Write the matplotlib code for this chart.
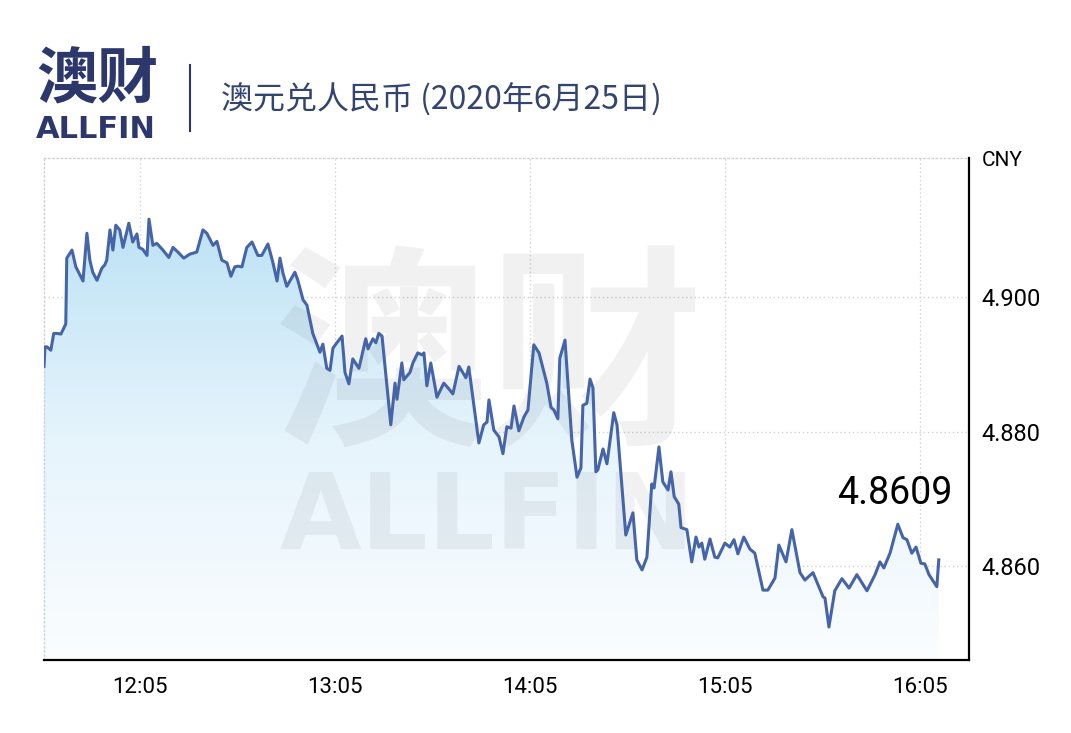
import numpy as np
import matplotlib.pyplot as plt
from matplotlib.colors import LinearSegmentedColormap
from matplotlib.lines import Line2D

plt.rcParams['font.family'] = ['Noto Sans CJK SC', 'DejaVu Sans']

W, H = 1071, 733

# minutes after 11:00, AUD/CNY rate
minutes = [35.5, 35.8, 36.4, 37.6, 38.5, 39.5, 40.7, 42.2, 42.5, 44.1,
           45.3, 47.5, 48.7, 49.6, 50.5, 51.8, 53.3, 54.2, 54.8, 55.8,
           56.7, 57.6, 58.8, 59.8, 61.6, 62.8, 64.1, 64.7, 65.9, 67.2,
           67.8, 69.0, 70.2, 72.1, 73.9, 75.2, 76.7, 78.5, 80.4, 82.5,
           84.4, 85.6, 87.5, 88.7, 90.2, 91.8, 93.0, 94.2, 95.2, 96.4,
           97.9, 99.5, 101.3, 102.5, 104.4, 105.9, 107.2, 108.1, 109.0, 110.2,
           112.7, 113.6, 115.2, 116.4, 118.2, 120.4, 121.3, 122.5, 123.5, 124.4,
           125.6, 127.2, 128.1, 129.3, 130.5, 132.4, 134.5, 135.2, 136.7, 137.6,
           138.5, 139.5, 142.2, 143.5, 144.1, 145.6, 146.2, 148.1, 149.0, 150.5,
           151.8, 152.4, 153.3, 154.5, 156.4, 158.5, 159.8, 161.3, 163.2, 165.3,
           166.2, 169.3, 170.8, 171.8, 172.4, 173.9, 175.5, 176.7, 177.9, 179.2,
           180.1, 181.6, 183.2, 184.4, 186.2, 187.8, 190.2, 191.5, 192.4, 193.6,
           194.2, 195.8, 197.9, 199.5, 200.7, 201.3, 202.5, 203.5, 204.4, 205.3,
           205.9, 207.5, 208.7, 210.8, 211.8, 214.5, 216.7, 217.9, 219.5, 221.0,
           222.5, 223.2, 224.7, 225.9, 227.5, 228.4, 229.4, 230.8, 231.5, 233.3,
           234.8, 236.1, 237.0, 237.9, 238.8, 240.4, 241.9, 242.8, 245.0, 246.5,
           247.8, 249.0, 250.8, 252.7, 254.2, 256.7, 258.2, 259.2, 260.4, 261.6,
           263.8, 265.6, 268.1, 269.6, 272.1, 275.2, 275.8, 277.0, 278.8, 281.0,
           283.2, 285.6, 288.7, 291.2, 292.7, 293.9, 295.8, 298.2, 299.8, 301.0,
           302.5, 303.8, 305.3, 306.5, 307.8, 310.2, 310.8]
rates = [4.8897, 4.8926, 4.8926, 4.8921, 4.8946, 4.8946, 4.8945, 4.8960, 4.9058, 4.9070,
         4.9045, 4.9024, 4.9095, 4.9055, 4.9037, 4.9025, 4.9043, 4.9048, 4.9055, 4.9100,
         4.9070, 4.9107, 4.9100, 4.9074, 4.9110, 4.9082, 4.9094, 4.9074, 4.9071, 4.9062,
         4.9116, 4.9077, 4.9080, 4.9070, 4.9059, 4.9074, 4.9067, 4.9058, 4.9064, 4.9067,
         4.9100, 4.9095, 4.9077, 4.9083, 4.9055, 4.9051, 4.9031, 4.9045, 4.9046, 4.9045,
         4.9074, 4.9082, 4.9062, 4.9062, 4.9079, 4.9052, 4.9024, 4.9058, 4.9036, 4.9016,
         4.9037, 4.9025, 4.8996, 4.8988, 4.8946, 4.8918, 4.8930, 4.8894, 4.8891, 4.8924,
         4.8932, 4.8942, 4.8888, 4.8871, 4.8908, 4.8894, 4.8938, 4.8923, 4.8938, 4.8932,
         4.8946, 4.8942, 4.8810, 4.8872, 4.8848, 4.8902, 4.8877, 4.8888, 4.8902, 4.8917,
         4.8914, 4.8917, 4.8868, 4.8902, 4.8851, 4.8872, 4.8865, 4.8856, 4.8897, 4.8880,
         4.8896, 4.8783, 4.8810, 4.8814, 4.8847, 4.8802, 4.8792, 4.8767, 4.8807, 4.8805,
         4.8838, 4.8801, 4.8822, 4.8832, 4.8929, 4.8917, 4.8872, 4.8836, 4.8832, 4.8819,
         4.8909, 4.8936, 4.8787, 4.8732, 4.8746, 4.8839, 4.8842, 4.8878, 4.8865, 4.8740,
         4.8743, 4.8774, 4.8752, 4.8828, 4.8810, 4.8646, 4.8679, 4.8609, 4.8594, 4.8613,
         4.8722, 4.8716, 4.8777, 4.8725, 4.8713, 4.8740, 4.8703, 4.8692, 4.8657, 4.8654,
         4.8606, 4.8643, 4.8628, 4.8634, 4.8610, 4.8640, 4.8613, 4.8612, 4.8634, 4.8628,
         4.8639, 4.8618, 4.8643, 4.8625, 4.8619, 4.8564, 4.8564, 4.8572, 4.8582, 4.8631,
         4.8606, 4.8654, 4.8590, 4.8579, 4.8590, 4.8554, 4.8552, 4.8509, 4.8563, 4.8581,
         4.8567, 4.8587, 4.8563, 4.8587, 4.8606, 4.8597, 4.8619, 4.8662, 4.8642, 4.8639,
         4.8619, 4.8628, 4.8604, 4.8603, 4.8587, 4.8569, 4.8609]

tick_minutes = [65, 125, 185, 245, 305]
tick_labels = ['12:05', '13:05', '14:05', '15:05', '16:05']
y_ticks = [4.860, 4.880, 4.900]
y_labels = ['4.860', '4.880', '4.900']
last_label = '4.8609'
title = '澳元兑人民币 (2020年6月25日)'

NAVY = '#2c376c'
Y0, Y1 = 4.8460, 4.9207


def px(x, y):
    return x / W, 1 - y / H


fig = plt.figure(figsize=(W / 100, H / 100), dpi=100)
ax = fig.add_axes([44 / W, 1 - 660 / H, (969 - 44) / W, (660 - 158) / H])

# gradient fill below the line
poly = ax.fill_between(minutes, rates, Y0, color='none', lw=0)
cmap = LinearSegmentedColormap.from_list('fade', ['#fbfdff', '#e6f4fc', '#bde2f5'])
grad = np.linspace(0, 1, 256).reshape(-1, 1)
im = ax.imshow(grad, extent=[minutes[0], minutes[-1], Y0, max(rates)],
               aspect='auto', cmap=cmap, origin='lower', zorder=2)
im.set_clip_path(poly.get_paths()[0], transform=ax.transData)

ax.plot(minutes, rates, color='#4565a8', lw=2.2, zorder=5, solid_joinstyle='round')

ax.set_xlim(35.5, 320.1)
ax.set_ylim(Y0, Y1)

# watermark
ax.text(*px(489, 365), '澳财', transform=fig.transFigure, fontsize=155,
        fontweight='bold', color='black', alpha=0.055, ha='center', va='center',
        zorder=3, clip_on=False)
ax.text(*px(487, 520), 'ALLFIN', transform=fig.transFigure, fontsize=76,
        fontweight='bold', family='DejaVu Sans', color='black', alpha=0.055,
        ha='center', va='center', zorder=3, clip_on=False)

# axes styling
ax.set_xticks(tick_minutes)
ax.set_xticklabels(tick_labels, family='Roboto', fontsize=16)
ax.yaxis.tick_right()
ax.set_yticks(y_ticks)
ax.set_yticklabels(y_labels, family='Roboto', fontsize=17)
ax.tick_params(axis='x', length=0, pad=12)
ax.tick_params(axis='y', length=0, pad=9)
ax.grid(True, ls=(0, (1, 2)), color='#d2d2d2', lw=1, zorder=1)
for side in ['top', 'left']:
    ax.spines[side].set_linestyle((0, (1, 2)))
    ax.spines[side].set_color('#d2d2d2')
    ax.spines[side].set_linewidth(1)
for side in ['bottom', 'right']:
    ax.spines[side].set_color('black')
    ax.spines[side].set_linewidth(1.6)

fig.text(*px(982, 161), 'CNY', family='Roboto', fontsize=15, va='center', ha='left')

ax.annotate(last_label, xy=(minutes[-1], rates[-1]), xytext=(-44, 66),
            textcoords='offset pixels', ha='center', va='center',
            family='Roboto', fontsize=27, color='black')

# header
fig.text(*px(97, 80), '澳财', fontsize=44, fontweight='bold', color=NAVY,
         ha='center', va='center')
fig.text(*px(96, 129), 'ALLFIN', fontsize=22, fontweight='bold',
         family='DejaVu Sans', color=NAVY, ha='center', va='center')
fig.add_artist(Line2D([190 / W, 190 / W], [1 - 65 / H, 1 - 131 / H],
                      color=NAVY, lw=1.5, transform=fig.transFigure))
fig.text(*px(221, 100), title, fontsize=23, color='#33456f', ha='left', va='center')

fig.savefig('out.png', dpi=100)
